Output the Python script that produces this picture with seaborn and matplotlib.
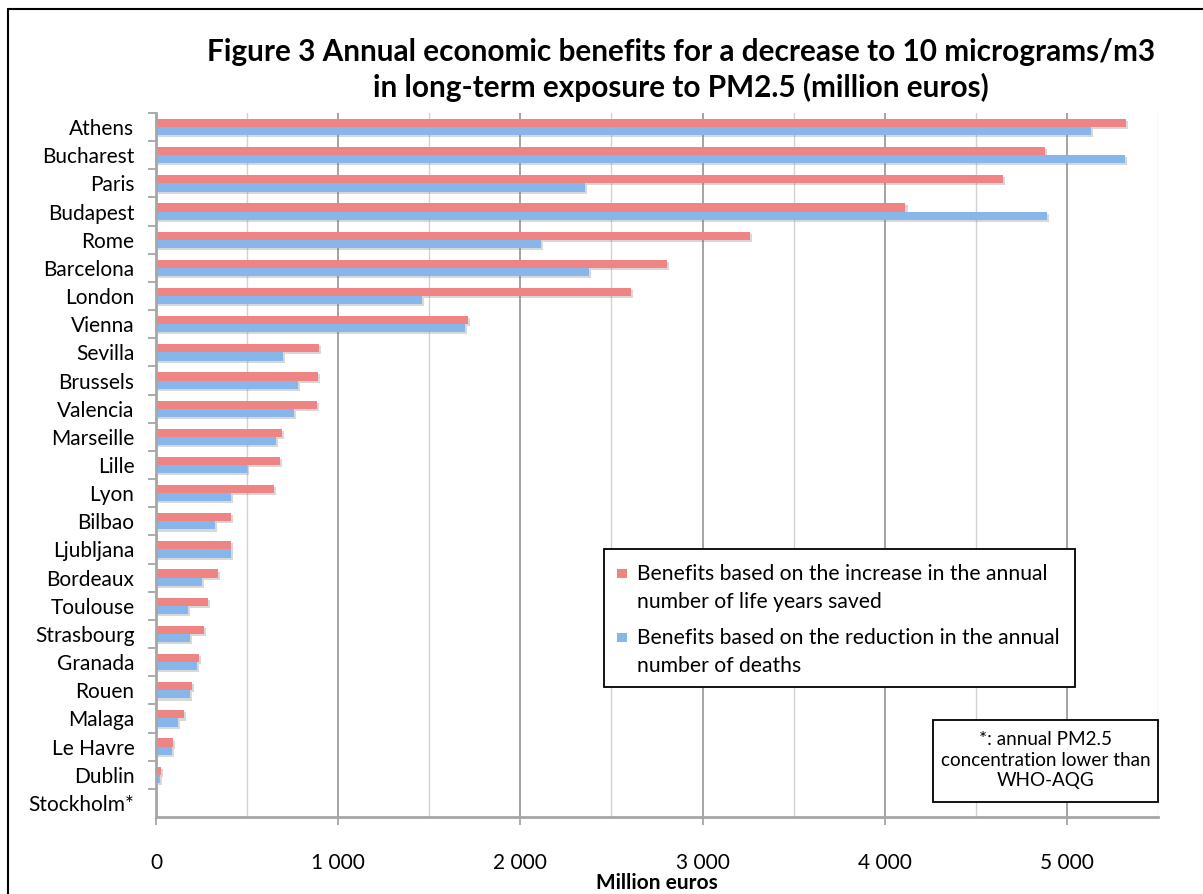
import numpy as np
import pandas as pd
import seaborn as sns
import matplotlib.pyplot as plt
import matplotlib.patheffects as pe
from matplotlib.patches import Rectangle
from matplotlib.lines import Line2D
from matplotlib.ticker import MultipleLocator, FuncFormatter

# Cities ordered from largest to smallest benefit
cities = ["Athens", "Bucharest", "Paris", "Budapest", "Rome", "Barcelona", "London",
          "Vienna", "Sevilla", "Brussels", "Valencia", "Marseille", "Lille", "Lyon",
          "Bilbao", "Ljubljana", "Bordeaux", "Toulouse", "Strasbourg", "Granada",
          "Rouen", "Malaga", "Le Havre", "Dublin", "Stockholm*"]

# Million euros per year
life_years_saved = [5322, 4881, 4648, 4114, 3261, 2803, 2608, 1711, 895, 891, 882,
                    693, 681, 646, 413, 410, 342, 287, 265, 236, 196, 154, 92, 26, 0]
deaths_reduced = [5133, 5318, 2354, 4891, 2113, 2379, 1458, 1694, 697, 779, 757,
                  659, 501, 410, 324, 410, 252, 174, 187, 225, 185, 119, 90, 20, 0]

series_labels = [
    "Benefits based on the increase in the annual\nnumber of life years saved",
    "Benefits based on the reduction in the annual\nnumber of deaths",
]
series_colors = ["#EE8484", "#86B6EA"]

title_text = ("Figure 3 Annual economic benefits for a decrease to 10 micrograms/m3\n"
              "in long-term exposure to PM2.5 (million euros)")
x_label = "Million euros"
note_text = "*: annual PM2.5\nconcentration lower than\nWHO-AQG"

df = pd.concat([
    pd.DataFrame({"city": cities, "value": life_years_saved, "series": series_labels[0]}),
    pd.DataFrame({"city": cities, "value": deaths_reduced, "series": series_labels[1]}),
], ignore_index=True)

sns.set_theme(style="white")
plt.rcParams["font.family"] = ["Lato", "DejaVu Sans"]
plt.rcParams["text.color"] = "black"
plt.rcParams["axes.labelcolor"] = "black"

W, H = 1203, 894
fig = plt.figure(figsize=(W / 100, H / 100), dpi=100)
ax = fig.add_axes([156 / W, 1 - 817 / H, (1158 - 156) / W, (817 - 113) / H])

sns.barplot(data=df, y="city", x="value", hue="series", order=cities,
            hue_order=series_labels, palette=series_colors, saturation=1, orient="h",
            width=0.58, gap=0, legend=False, ax=ax, linewidth=0, errorbar=None)

for bar in ax.patches:
    bar.set_path_effects([
        pe.SimplePatchShadow(offset=(1.5, -1.5), shadow_rgbFace="#808080", alpha=0.3),
        pe.Normal(),
    ])

ax.set_xlim(0, 5500)
ax.set_ylim(len(cities) - 0.5, -0.5)

ax.xaxis.set_major_locator(MultipleLocator(1000))
ax.xaxis.set_minor_locator(MultipleLocator(500))
ax.xaxis.set_major_formatter(FuncFormatter(lambda v, _: f"{int(v):,}".replace(",", " ")))
ax.grid(which="major", axis="x", color="#9C9C9C", linewidth=1.3)
ax.grid(which="minor", axis="x", color="#D2D2D2", linewidth=1.0)
ax.grid(which="major", axis="y", visible=False)
ax.set_axisbelow(True)

ax.set_yticks(range(len(cities)))
ax.set_yticklabels(cities)
ax.set_yticks(np.arange(-0.5, len(cities) - 0.5, 1), minor=True)
ax.tick_params(axis="y", which="major", length=0, pad=15.5, labelsize=15, labelcolor="black")
ax.tick_params(axis="y", which="minor", length=6, width=1.3, color="#A6A6A6", left=True)
ax.tick_params(axis="x", which="major", length=6, width=1.3, color="#A6A6A6",
               bottom=True, pad=20, labelsize=15, labelcolor="black")
ax.tick_params(axis="x", which="minor", length=0)

for side in ["top", "right"]:
    ax.spines[side].set_visible(False)
for side in ["left", "bottom"]:
    ax.spines[side].set_color("#A6A6A6")
    ax.spines[side].set_linewidth(2)

ax.set_ylabel("")
ax.set_xlabel(x_label, fontsize=15, fontweight="bold", labelpad=0)

fig.text(681 / W, 1 - 70 / H, title_text, ha="center", va="center",
         fontsize=21.4, fontweight="bold", linespacing=1.32)


def fx(px):
    return px / W


def fy(py):
    return 1 - py / H


# Legend box drawn in figure pixels
fig.add_artist(Rectangle((fx(604), fy(687)), fx(1075) - fx(604), fy(549) - fy(687),
                         transform=fig.transFigure, facecolor="white",
                         edgecolor="black", linewidth=1.3, zorder=5))
for label, color, mid in zip(series_labels, series_colors, [573, 637]):
    fig.add_artist(Rectangle((fx(617), fy(mid + 5)), fx(9.5), 9.5 / H,
                             transform=fig.transFigure, facecolor=color,
                             edgecolor="none", zorder=6))
    fig.text(fx(637), fy(mid - 9), label, ha="left", va="top", fontsize=15.2,
             linespacing=1.5, zorder=6)

# Footnote box
fig.add_artist(Rectangle((fx(933), fy(802)), fx(1158) - fx(933), fy(720) - fy(802),
                         transform=fig.transFigure, facecolor="white",
                         edgecolor="black", linewidth=1.3, zorder=5))
fig.text(fx(1045.5), fy(760), note_text, ha="center", va="center", fontsize=13.6,
         multialignment="center", linespacing=1.25, zorder=6)

# Outer frame
fig.add_artist(Line2D([8 / W, 8 / W], [0, 1 - 9 / H], transform=fig.transFigure,
                      color="black", linewidth=1.5))
fig.add_artist(Line2D([8 / W, 1], [1 - 9 / H, 1 - 9 / H], transform=fig.transFigure,
                      color="black", linewidth=1.5))

fig.savefig("out.png", dpi=100)
